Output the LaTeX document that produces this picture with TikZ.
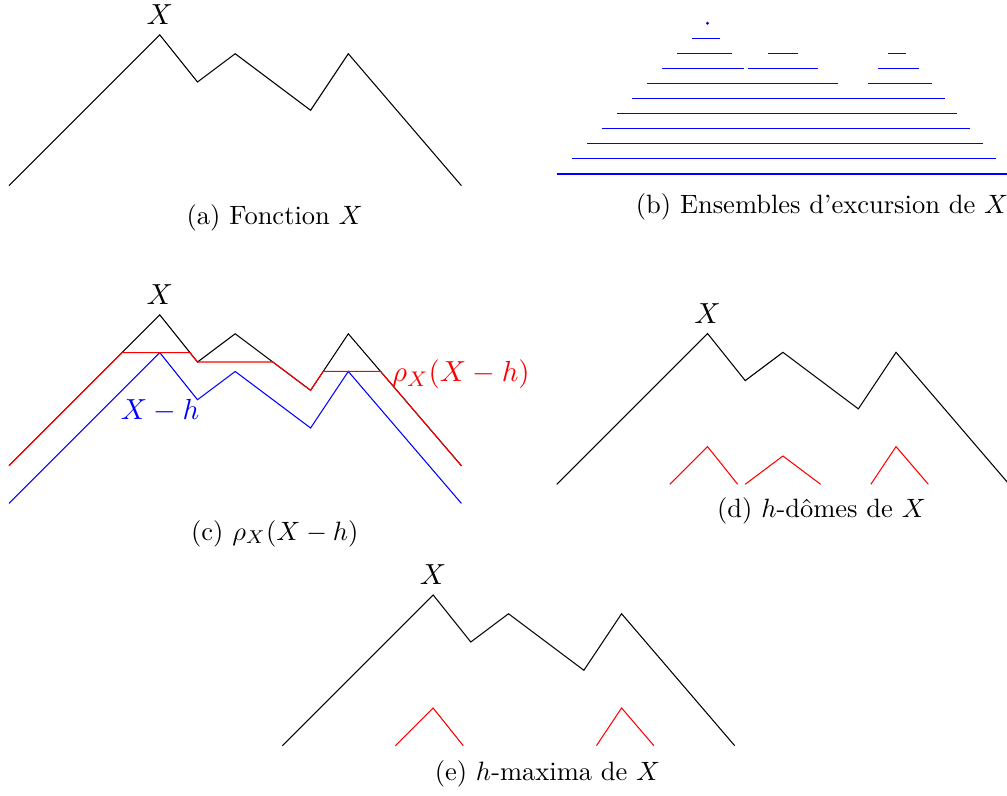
\RequirePackage{fix-cm}
\documentclass[tikz,border=0pt]{standalone}
\newcommand{\Xcurve}[1][]{\draw[#1] (0,0) -- (4,4) -- (5,2.75) -- (6,3.5) -- (8,2) -- (9,3.5) -- (12,0);}
\begin{document}
\begin{tikzpicture}[x=0.5cm,y=0.5cm,line width=0.4pt,
  toplbl/.style={inner sep=0pt,font=\fontsize{10.95}{13.6}\selectfont},
  capt/.style={inner sep=0pt,anchor=base},
  biglbl/.style={inner sep=0pt,font=\fontsize{10.95}{13.6}\selectfont},
  lvl/.style={blue},
  dome/.style={red}]
\useasboundingbox (0,0) rectangle (26.711,-21.114);

% (a)
\begin{scope}[shift={(0.2387,-4.9257)}]
  \Xcurve
  \node[toplbl] (Xa) at (4.0,4.53) {$X$};
\end{scope}
\node[capt] (capa) at (7.287,-5.955) {(a) Fonction $X$};

% (b)
\begin{scope}[shift={(14.767,-4.6154)}]
  \draw[lvl] (0,0) -- (12,0);
  \draw[lvl] (0.4,0.4) -- (11.657,0.4);
  \draw[lvl] (0.8,0.8) -- (11.314,0.8);
  \draw[lvl] (1.2,1.2) -- (10.971,1.2);
  \draw[lvl] (1.6,1.6) -- (10.629,1.6);
  \draw[lvl] (2,2) -- (10.286,2);
  \draw[lvl] (2.4,2.4) -- (7.467,2.4);
  \draw[lvl] (8.267,2.4) -- (9.943,2.4);
  \draw[lvl] (2.8,2.8) -- (4.96,2.8);
  \draw[lvl] (5.067,2.8) -- (6.933,2.8);
  \draw[lvl] (8.533,2.8) -- (9.6,2.8);
  \draw[lvl] (3.2,3.2) -- (4.64,3.2);
  \draw[lvl] (5.6,3.2) -- (6.4,3.2);
  \draw[lvl] (8.8,3.2) -- (9.257,3.2);
  \draw[lvl] (3.6,3.6) -- (4.32,3.6);
  \fill[blue] (4,4) circle (0.6pt);
\end{scope}
\node[capt] (capb) at (21.804,-5.676) {(b) Ensembles d'excursion de $X$};

% (c)
\begin{scope}[shift={(0.2387,-12.353)}]
  \Xcurve
  \draw[blue] (0,-1) -- (4,3) -- (5,1.75) -- (6,2.5) -- (8,1) -- (9,2.5) -- (12,-1);
  \draw[red] (0,0) -- (3,3) -- (4.8,3) -- (5,2.75) -- (7,2.75) -- (8,2) -- (8.333,2.5) -- (9.857,2.5) -- (12,0);
  \node[toplbl] (Xc) at (4.0,4.53) {$X$};
  \node[biglbl,text=blue] (Xh) at (4.01,1.45) {$X-h$};
  \node[biglbl,text=red,anchor=base west] (rho) at (10.15,2.233) {$\rho_X(X-h)$};
\end{scope}
\node[capt] (capc) at (7.287,-14.324) {(c) $\rho_X(X-h)$};

% (d)
\begin{scope}[shift={(14.767,-12.846)}]
  \Xcurve
  \draw[dome] (3,0) -- (4,1) -- (4.8,0);
  \draw[dome] (5,0) -- (6,0.75) -- (7,0);
  \draw[dome] (8.333,0) -- (9,1) -- (9.857,0);
  \node[toplbl] (Xd) at (4.0,4.53) {$X$};
\end{scope}
\node[capt] (capd) at (21.79,-13.714) {(d) $h$-d\^omes de $X$};

% (e)
\begin{scope}[shift={(7.488,-19.780)}]
  \Xcurve
  \draw[dome] (3,0) -- (4,1) -- (4.8,0);
  \draw[dome] (8.333,0) -- (9,1) -- (9.857,0);
  \node[toplbl] (Xe) at (4.0,4.53) {$X$};
\end{scope}
\node[capt] (cape) at (14.523,-20.69) {(e) $h$-maxima de $X$};
\end{tikzpicture}
\end{document}
